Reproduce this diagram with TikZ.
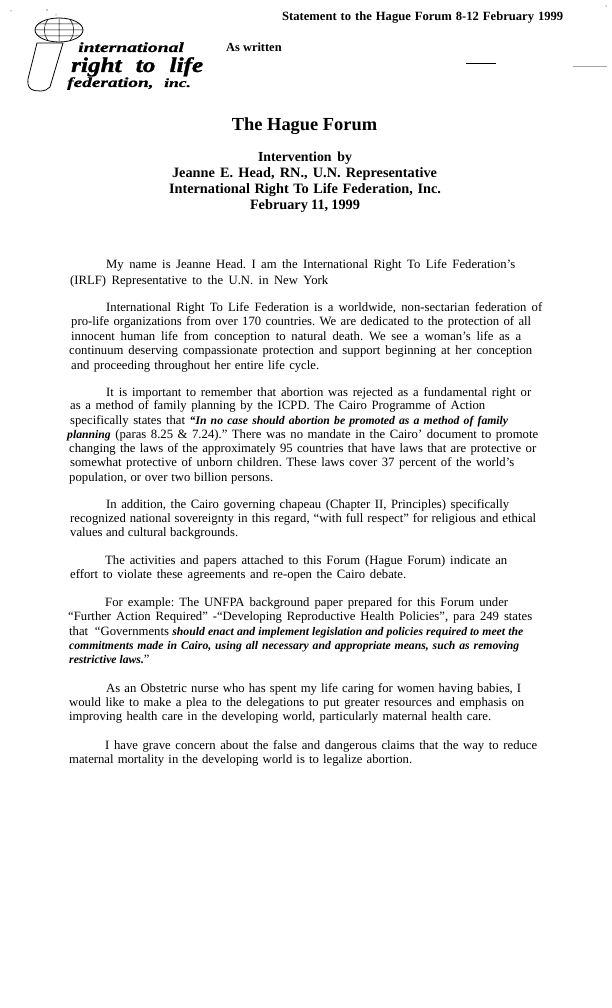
\documentclass[tikz,border=0pt]{standalone}
\usepackage{fontspec}
\setmainfont{Liberation Serif}
\newfontfamily\logofont[UprightFont=* Bold Italic,FakeBold=1.5,FakeStretch=1.2]{Liberation Serif}
\newfontfamily\logowide[UprightFont=* Bold Italic,FakeBold=0.8,FakeStretch=1.4]{Liberation Serif}
\newcommand{\fitw}[2]{\makebox[#1pt][s]{#2}}
\newcommand{\bi}[1]{\fontsize{11.7}{14}\selectfont\textbf{\textit{#1}}\fontsize{12.7}{15}\selectfont}
\frenchspacing

\begin{document}
\begin{tikzpicture}
    [x=1pt,y=-1pt,
     txt/.style={anchor=base west,inner sep=0pt,font=\fontsize{12.7}{15}\selectfont},
     head/.style={anchor=base,inner sep=0pt,font=\fontsize{14.3}{16}\selectfont\bfseries},
     logo/.style={anchor=base west,inner sep=0pt},
     rulemark/.style={line width=0.7pt}]
    \path[use as bounding box] (0,0) rectangle (612,1008);

    % letterhead
    \draw[line width=0.8pt] (59,30) ellipse (24 and 12);
    \draw[line width=0.5pt] (38,24) -- (80,24) (35,30) -- (83,30) (38,36) -- (80,36)
      (59,18) -- (59,42) (48,19.5) .. controls (43,26) and (43,34) .. (48,40.5)
      (70,19.5) .. controls (75,26) and (75,34) .. (70,40.5);
    \draw[line width=0.8pt] (37,43) -- (63,43) -- (50,87)
      .. controls (46,92) and (36,92) .. (31,89)
      .. controls (28,87) and (27.5,83) .. (28,79) -- cycle;
    \fill (11,11) circle (0.5) (47,10) circle (0.6) (56,15) circle (0.5) (606,6) circle (0.5);
    \node[logo,font=\logowide\fontsize{14}{16}\selectfont] (lint) at (78,52) {\fitw{109}{international}};
    \node[logo,font=\logofont\fontsize{21}{23}\selectfont] (lright) at (71,72) {\fitw{132}{right to life}};
    \node[logo,font=\logowide\fontsize{13.8}{15}\selectfont] (lfed) at (67,87) {federation,};
    \node[logo,font=\logowide\fontsize{12.5}{14}\selectfont] (linc) at (164,87) {inc.};

    \node[txt,font=\fontsize{12.6}{14}\selectfont\bfseries] (header) at (282,21) {\fitw{281}{Statement to the Hague Forum 8-12 February 1999}};
    \node[txt,font=\fontsize{12.4}{14}\selectfont\bfseries] (aswritten) at (226,52) {As written};
    \draw[rulemark] (466,63.5) -- (496,63.5);
    \draw[rulemark,gray!70] (573,66.5) -- (607,66.5);

    \node[head,font=\fontsize{18.4}{20}\selectfont\bfseries] (title) at (304.5,131) {The Hague Forum};
    \node[head,font=\fontsize{13.8}{16}\selectfont\bfseries] (interv) at (305,162) {\fitw{94}{Intervention by}};
    \node[head] (jeanne) at (304.5,178) {\fitw{265}{Jeanne E. Head, RN., U.N. Representative}};
    \node[head] (irlf) at (305,194) {\fitw{272}{International Right To Life Federation, Inc.}};
    \node[head] (date) at (305,210) {\fitw{110}{February 11, 1999}};

    % first paragraph
    \node[txt] (p1a) at (106,268) {\fitw{409}{My name is Jeanne Head. I am the International Right To Life Federation’s}};
    \node[txt] (p1b) at (70,284) {\fitw{258}{(IRLF) Representative to the U.N. in New York}};

    \node[txt] (p2a) at (106,311) {\fitw{436}{International Right To Life Federation is a worldwide, non-sectarian federation of}};
    \node[txt] (p2b) at (71,325) {\fitw{460}{pro-life organizations from over 170 countries. We are dedicated to the protection of all}};
    \node[txt] (p2c) at (71,340) {\fitw{450}{innocent human life from conception to natural death. We see a woman’s life as a}};
    \node[txt] (p2d) at (69,354) {\fitw{463}{continuum deserving compassionate protection and support beginning at her conception}};
    \node[txt] (p2e) at (71,369) {\fitw{248}{and proceeding throughout her entire life cycle.}};

    \node[txt] (p3a) at (106,396) {\fitw{425}{It is important to remember that abortion was rejected as a fundamental right or}};
    \node[txt] (p3b) at (70,409) {\fitw{415}{as a method of family planning by the ICPD. The Cairo Programme of Action}};
    \node[txt] (p3c) at (70,424) {\fitw{438}{specifically states that \bi{“In no case should abortion be promoted as a method of family}}};
    \node[txt] (p3d) at (67,438) {\fitw{471}{\bi{planning} (paras 8.25 \& 7.24)." There was no mandate in the Cairo’ document to promote}};
    \node[txt] (p3e) at (69,452) {\fitw{467}{changing the laws of the approximately 95 countries that have laws that are protective or}};
    \node[txt] (p3f) at (70,466) {\fitw{444}{somewhat protective of unborn children. These laws cover 37 percent of the world’s}};
    \node[txt] (p3g) at (69,481) {\fitw{204}{population, or over two billion persons.}};

    \node[txt] (p4a) at (106,508) {\fitw{403}{In addition, the Cairo governing chapeau (Chapter II, Principles) specifically}};
    \node[txt] (p4b) at (70,522) {\fitw{466}{recognized national sovereignty in this regard, “with full respect” for religious and ethical}};
    \node[txt] (p4c) at (70,536) {\fitw{168}{values and cultural backgrounds.}};

    \node[txt] (p5a) at (105,564) {\fitw{402}{The activities and papers attached to this Forum (Hague Forum) indicate an}};
    \node[txt] (p5b) at (70,578) {\fitw{336}{effort to violate these agreements and re-open the Cairo debate.}};

    \node[txt] (p6a) at (105,606) {\fitw{403}{For example: The UNFPA background paper prepared for this Forum under}};
    \node[txt] (p6b) at (68,620) {\fitw{464}{“Further Action Required” -“Developing Reproductive Health Policies”, para 249 states}};
    \node[txt] (p6c) at (69,635) {\fitw{454}{that \ “Governments \bi{should enact and implement legislation and policies required to meet the}}};
    \node[txt] (p6d) at (69,649) {\fitw{450}{\bi{commitments made in Cairo, using all necessary and appropriate means, such as removing}}};
    \node[txt] (p6e) at (69,663) {\bi{restrictive laws.}"};

    \node[txt] (p7a) at (106,692) {\fitw{415}{As an Obstetric nurse who has spent my life caring for women having babies, I}};
    \node[txt] (p7b) at (69,706) {\fitw{455}{would like to make a plea to the delegations to put greater resources and emphasis on}};
    \node[txt] (p7c) at (69,720) {\fitw{422}{improving health care in the developing world, particularly maternal health care.}};

    \node[txt] (p8a) at (105,749) {\fitw{432}{I have grave concern about the false and dangerous claims that the way to reduce}};
    \node[txt] (p8b) at (69,763) {\fitw{343}{maternal mortality in the developing world is to legalize abortion.}};
\end{tikzpicture}
\end{document}
